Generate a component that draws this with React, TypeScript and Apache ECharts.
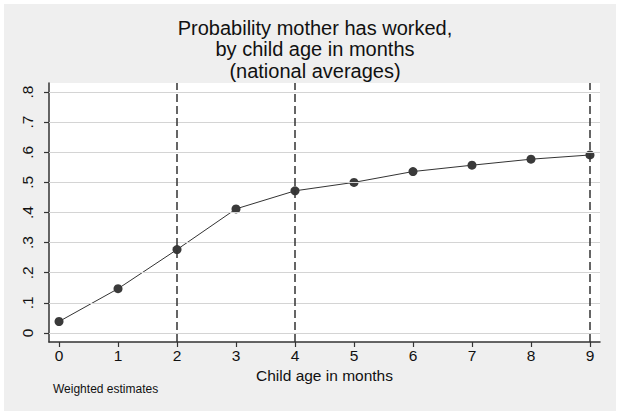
import React, { useEffect, useRef } from "react";
import * as echarts from "echarts";

const months = [0, 1, 2, 3, 4, 5, 6, 7, 8, 9];
const probWorked = [0.038, 0.147, 0.277, 0.412, 0.472, 0.5, 0.536, 0.557, 0.577, 0.591];
const yTicks = [0, 0.1, 0.2, 0.3, 0.4, 0.5, 0.6, 0.7, 0.8];
const xTicks = [0, 1, 2, 3, 4, 5, 6, 7, 8, 9];
const dashedMonths = [2, 4, 9];

const FONT = "Liberation Sans, Arial, sans-serif";

export default function App() {
  const ref = useRef<HTMLDivElement>(null);
  useEffect(() => {
    if (!ref.current) return;
    const chart = echarts.init(ref.current, null, { renderer: "svg" });
    chart.setOption({
      animation: false,
      textStyle: { fontFamily: FONT },
      title: {
        text: "Probability mother has worked,\nby child age in months\n(national averages)",
        left: 310,
        top: 12,
        textAlign: "center",
        textStyle: {
          fontFamily: FONT,
          fontSize: 20,
          fontWeight: "normal",
          color: "#111111",
          lineHeight: 21.5,
        },
      },
      grid: {
        left: 49,
        right: 21,
        top: 83,
        bottom: 76,
        show: true,
        backgroundColor: "#ffffff",
        borderWidth: 0,
      },
      xAxis: {
        type: "value",
        min: -0.17,
        max: 9.17,
        name: "Child age in months",
        nameLocation: "middle",
        nameGap: 18,
        nameTextStyle: { fontFamily: FONT, fontSize: 15.5, color: "#111111" },
        axisLine: { show: true, onZero: false, lineStyle: { color: "#333333", width: 1.5 } },
        axisTick: { show: true, length: 5, customValues: xTicks, lineStyle: { color: "#333333", width: 1.2 } },
        axisLabel: {
          customValues: xTicks,
          margin: 5,
          fontFamily: FONT,
          fontSize: 15.5,
          color: "#111111",
          formatter: (v: number) => String(Math.round(v)),
        },
        splitLine: { show: false },
      },
      yAxis: {
        type: "value",
        min: -0.03,
        max: 0.83,
        axisLine: { show: true, onZero: false, lineStyle: { color: "#333333", width: 1.5 } },
        axisTick: { show: true, length: 5, customValues: yTicks, lineStyle: { color: "#333333", width: 1.2 } },
        axisLabel: {
          customValues: yTicks,
          rotate: 90,
          margin: 14,
          fontFamily: FONT,
          fontSize: 15.5,
          color: "#111111",
          formatter: (v: number) => {
            const r = Math.round(v * 10);
            return r === 0 ? "0" : "." + r;
          },
        },
        splitLine: { show: false },
      },
      graphic: [
        {
          type: "text",
          left: 53,
          top: 383,
          style: {
            text: "Weighted estimates",
            fontFamily: FONT,
            fontSize: 12,
            fill: "#111111",
          },
        },
      ],
      series: [
        {
          type: "line",
          data: [],
          silent: true,
          markLine: {
            silent: true,
            symbol: "none",
            label: { show: false },
            lineStyle: { color: "#d4d4d4", width: 1, type: "solid" },
            data: yTicks.map((v) => ({ yAxis: v })),
          },
          z: 1,
        },
        {
          type: "line",
          data: [],
          silent: true,
          markLine: {
            silent: true,
            symbol: "none",
            label: { show: false },
            lineStyle: { color: "#333333", width: 1.5, type: [8, 4] },
            data: dashedMonths.map((v) => ({ xAxis: v })),
          },
          z: 2,
        },
        {
          type: "line",
          data: months.map((m, i) => [m, probWorked[i]]),
          symbol: "circle",
          symbolSize: 9,
          lineStyle: { color: "#333333", width: 1 },
          itemStyle: { color: "#3a3a3a" },
          z: 3,
        },
      ],
    });
    return () => chart.dispose();
  }, []);

  return (
    <div style={{ position: "fixed", left: 0, top: 0, width: 621, height: 418, background: "#ffffff" }}>
      <div style={{ position: "absolute", left: 4, top: 4, width: 612, height: 407, background: "#efefef" }} />
      <div ref={ref} style={{ position: "absolute", left: 0, top: 0, width: 621, height: 418 }} />
    </div>
  );
}
